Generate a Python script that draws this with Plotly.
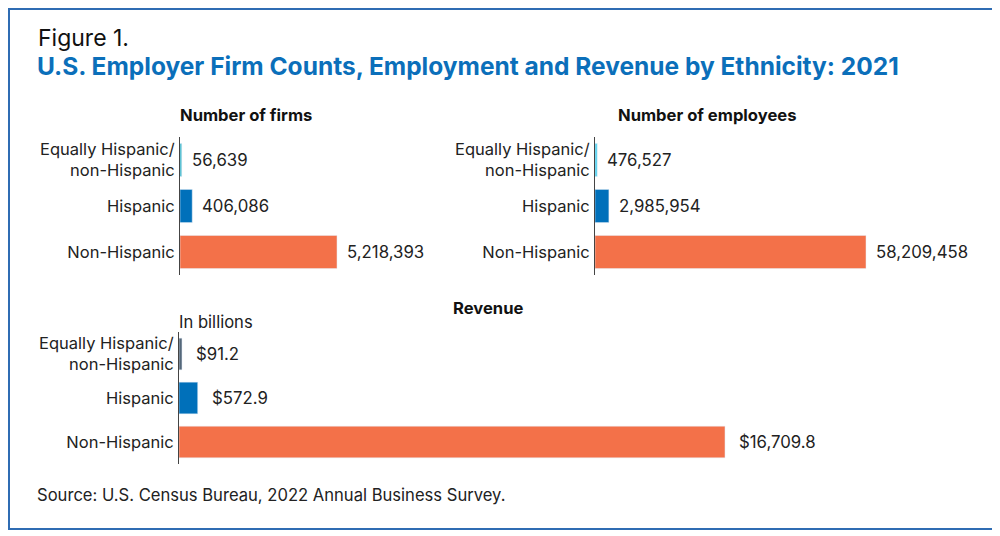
import plotly.graph_objects as go

categories = ['Equally Hispanic/<br>non-Hispanic', 'Hispanic', 'Non-Hispanic']

firms = [56639, 406086, 5218393]
employees = [476527, 2985954, 58209458]
revenue = [91.2, 572.9, 16709.8]

firm_labels = ['56,639', '406,086', '5,218,393']
employee_labels = ['476,527', '2,985,954', '58,209,458']
revenue_labels = ['$91.2', '$572.9', '$16,709.8']

orange = '#f37149'
blue = '#0070ba'
firm_colors = ['#33b5c9', blue, orange]
employee_colors = ['#4fd0ee', blue, orange]
revenue_colors = ['#55687a', blue, orange]

font = 'Inter, Open Sans, sans-serif'

# the page puts the figure 8px in from the top left corner
def px(x):
    return (x - 8) / 1000

def py(y):
    return 1 - (y - 8) / 536

fig = go.Figure()

fig.add_trace(go.Bar(x=firms, y=categories, orientation='h', marker_color=firm_colors,
                     width=0.72, xaxis='x', yaxis='y', hoverinfo='skip'))
fig.add_trace(go.Bar(x=employees, y=categories, orientation='h', marker_color=employee_colors,
                     width=0.72, xaxis='x2', yaxis='y2', hoverinfo='skip'))
fig.add_trace(go.Bar(x=revenue, y=categories, orientation='h', marker_color=revenue_colors,
                     width=0.72, xaxis='x3', yaxis='y3', hoverinfo='skip'))

annotations = []
for xref, yref, vals, labels, shift in [('x', 'y', firms, firm_labels, 8),
                                        ('x2', 'y2', employees, employee_labels, 8),
                                        ('x3', 'y3', revenue, revenue_labels, 12)]:
    for v, c, t in zip(vals, categories, labels):
        annotations.append(dict(x=v, y=c, xref=xref, yref=yref, text=t, showarrow=False,
                                xanchor='left', xshift=shift,
                                font=dict(size=16.8, color='#222222', family=font)))

# headings
annotations += [
    dict(x=px(36), y=py(38), xref='paper', yref='paper', text='Figure 1.', showarrow=False,
         xanchor='left', yanchor='middle', font=dict(size=23, color='#111111', family=font)),
    dict(x=px(35), y=py(66), xref='paper', yref='paper',
         text='<b>U.S. Employer Firm Counts, Employment and Revenue by Ethnicity: 2021</b>',
         showarrow=False, xanchor='left', yanchor='middle',
         font=dict(size=24.5, color='#0b6fba', family=font)),
    dict(x=px(246), y=py(115), xref='paper', yref='paper', text='<b>Number of firms</b>',
         showarrow=False, xanchor='center', yanchor='middle',
         font=dict(size=16.6, color='#111111', family=font)),
    dict(x=px(707), y=py(115), xref='paper', yref='paper', text='<b>Number of employees</b>',
         showarrow=False, xanchor='center', yanchor='middle',
         font=dict(size=16.6, color='#111111', family=font)),
    dict(x=px(488), y=py(308), xref='paper', yref='paper', text='<b>Revenue</b>',
         showarrow=False, xanchor='center', yanchor='middle',
         font=dict(size=16.6, color='#111111', family=font)),
    dict(x=px(177), y=py(322), xref='paper', yref='paper', text='In billions',
         showarrow=False, xanchor='left', yanchor='middle',
         font=dict(size=16.6, color='#222222', family=font)),
    dict(x=px(35), y=py(495), xref='paper', yref='paper',
         text='Source: U.S. Census Bureau, 2022 Annual Business Survey.',
         showarrow=False, xanchor='left', yanchor='middle',
         font=dict(size=16.6, color='#222222', family=font)),
]

xcommon = dict(showgrid=False, zeroline=False, showticklabels=False, ticks='', showline=False,
               fixedrange=True)
ycommon = dict(showgrid=False, zeroline=False, ticks='', showline=True, linecolor='#444444',
               linewidth=1, tickfont=dict(size=16.5, color='#222222', family=font),
               range=[2.5, -0.5], ticklabelstandoff=1)

fig.update_layout(
    width=1000, height=536,
    margin=dict(l=0, r=0, t=0, b=0),
    paper_bgcolor='white', plot_bgcolor='white',
    showlegend=False,
    font=dict(family=font),
    xaxis=dict(domain=[px(180), px(400)], range=[0, 7312000], anchor='y', **xcommon),
    yaxis=dict(domain=[py(275), py(137)], anchor='x', **ycommon),
    xaxis2=dict(domain=[px(595), px(900)], range=[0, 65512000], anchor='y2', **xcommon),
    yaxis2=dict(domain=[py(275), py(137)], anchor='x2', **ycommon),
    xaxis3=dict(domain=[px(179), px(900)], range=[0, 22066], anchor='y3', **xcommon),
    yaxis3=dict(domain=[py(464), py(332)], anchor='x3', **ycommon),
    annotations=annotations,
    shapes=[dict(type='rect', xref='paper', yref='paper', x0=0.001, x1=px(993),
                 y0=py(529), y1=1 - 1 / 536, line=dict(color='#2f6cb3', width=2))],
)

fig.write_html('out.html')
